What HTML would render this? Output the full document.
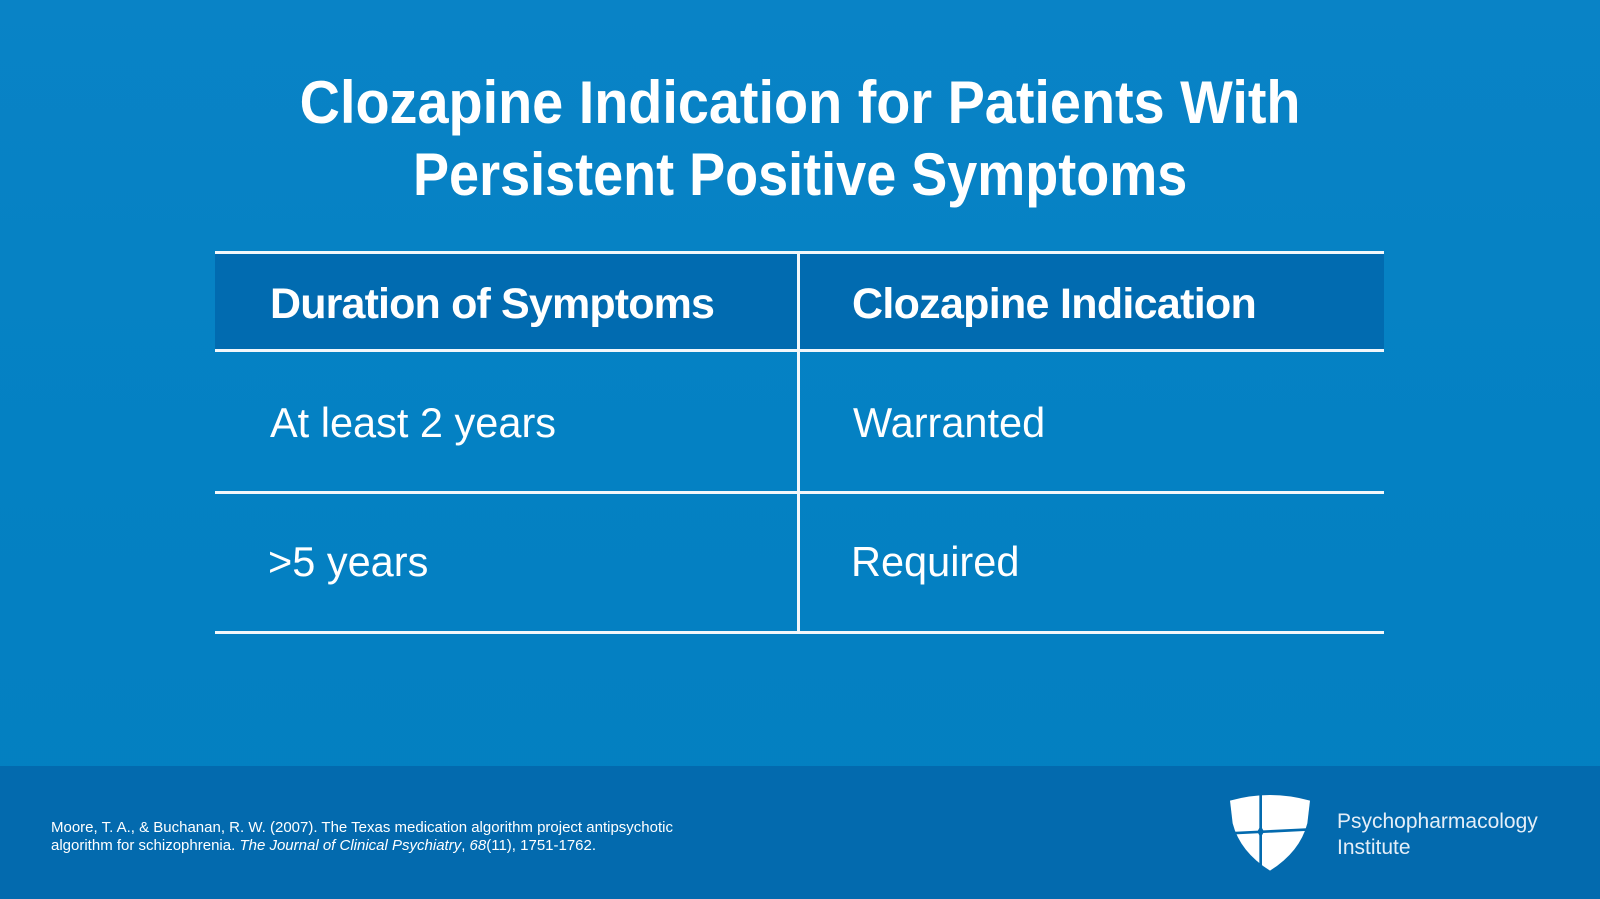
<!DOCTYPE html>
<html>
<head>
<meta charset="utf-8">
<style>
  html,body{margin:0;padding:0;}
  body{width:1600px;height:899px;position:relative;overflow:hidden;
    background:linear-gradient(180deg,#0983c6 0%,#0481c3 50%,#037fc0 100%);
    font-family:"Liberation Sans",sans-serif;color:#fff;}
  .abs{position:absolute;white-space:nowrap;}
  .title{left:0;width:1600px;text-align:center;font-weight:bold;font-size:60px;line-height:60px;}
  .title span{display:inline-block;transform-origin:50% 50%;}
  .hdr{font-weight:bold;font-size:43px;line-height:43px;}
  .cell{font-size:41.5px;line-height:41.5px;}
  .line{position:absolute;background:#f2f7fb;}
  .footer{position:absolute;left:0;top:766px;width:1600px;height:133px;background:#036aae;}
  .cite{font-size:15px;line-height:18px;color:#fff;}
  .logo{font-size:21px;line-height:26px;color:#e4eef8;}
</style>
</head>
<body>
  <div class="abs title" style="top:73px;"><span style="transform:scaleX(0.93);">Clozapine Indication for Patients With</span></div>
  <div class="abs title" style="top:145px;"><span style="transform:scaleX(0.9);">Persistent Positive Symptoms</span></div>

  <!-- header background -->
  <div style="position:absolute;left:215px;top:253px;width:1169px;height:97px;background:#016bb0;"></div>

  <!-- table lines -->
  <div class="line" style="left:215px;top:251px;width:1169px;height:3px;"></div>
  <div class="line" style="left:215px;top:349px;width:1169px;height:3px;"></div>
  <div class="line" style="left:215px;top:491px;width:1169px;height:3px;"></div>
  <div class="line" style="left:215px;top:631px;width:1169px;height:3px;"></div>
  <div class="line" style="left:797px;top:251px;width:2.5px;height:383px;"></div>

  <div class="abs hdr" style="left:270px;top:283px;letter-spacing:-0.85px;">Duration of Symptoms</div>
  <div class="abs hdr" style="left:852px;top:283px;letter-spacing:-0.7px;">Clozapine Indication</div>

  <div class="abs cell" style="left:270px;top:402px;">At least 2 years</div>
  <div class="abs cell" style="left:853px;top:402px;">Warranted</div>
  <div class="abs cell" style="left:268px;top:541px;">&gt;5 years</div>
  <div class="abs cell" style="left:851px;top:541px;">Required</div>

  <div class="footer"></div>
  <div class="abs cite" style="left:51px;top:819px;">Moore, T. A., &amp; Buchanan, R. W. (2007). The Texas medication algorithm project antipsychotic<br>algorithm for schizophrenia. <i>The Journal of Clinical Psychiatry</i>, <i>68</i>(11), 1751-1762.</div>

  <svg style="position:absolute;left:1220px;top:785px;" width="100" height="95" viewBox="0 0 300 285">
    <path d="M30,47 Q150,13 270,47 L262,115 Q240,200 150,257 Q60,200 38,115 Z" fill="#ffffff"/>
    <line x1="122" y1="15" x2="122" y2="250" stroke="#036aae" stroke-width="8"/>
    <line x1="30" y1="145" x2="275" y2="133" stroke="#036aae" stroke-width="8"/>
    <polygon points="122,122 132,140 122,158 112,140" fill="#036aae"/>
  </svg>
  <div class="abs logo" style="left:1337px;top:809px;">Psychopharmacology<br>Institute</div>
</body>
</html>
